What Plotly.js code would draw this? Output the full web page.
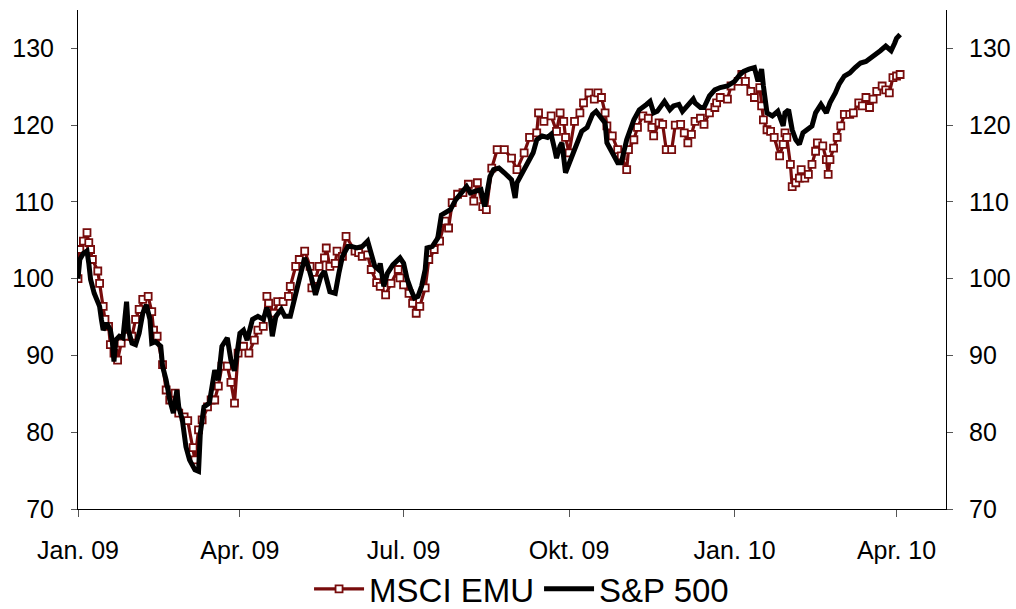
<!DOCTYPE html>
<html>
<head>
<meta charset="utf-8">
<script src="https://cdn.plot.ly/plotly-3.0.1.min.js"></script>
<style>html,body{margin:0;padding:0;background:#fff;}#chart{width:1016px;height:609px;}</style>
</head>
<body>
<div id="chart"></div>
<script>
const seriesNames = ["MSCI EMU", "S&P 500"];
const tickDates = ["2009-01-01","2009-04-01","2009-07-01","2009-10-01","2010-01-01","2010-04-01"];
const tickLabels = ["Jan. 09","Apr. 09","Jul. 09","Okt. 09","Jan. 10","Apr. 10"];
const yTicks = [70, 80, 90, 100, 110, 120, 130];

const msciDates = ["2009-01-01","2009-01-02","2009-01-04","2009-01-06","2009-01-07","2009-01-08","2009-01-09","2009-01-12","2009-01-13","2009-01-15","2009-01-16","2009-01-18","2009-01-19","2009-01-21","2009-01-23","2009-01-25","2009-01-28","2009-01-31","2009-02-02","2009-02-04","2009-02-06","2009-02-09","2009-02-11","2009-02-12","2009-02-14","2009-02-17","2009-02-19","2009-02-21","2009-02-24","2009-02-26","2009-03-01","2009-03-03","2009-03-06","2009-03-07","2009-03-09","2009-03-11","2009-03-14","2009-03-16","2009-03-18","2009-03-20","2009-03-22","2009-03-25","2009-03-27","2009-03-29","2009-03-31","2009-04-03","2009-04-06","2009-04-09","2009-04-11","2009-04-14","2009-04-16","2009-04-17","2009-04-20","2009-04-22","2009-04-25","2009-04-28","2009-04-29","2009-05-02","2009-05-04","2009-05-07","2009-05-10","2009-05-11","2009-05-13","2009-05-15","2009-05-18","2009-05-19","2009-05-21","2009-05-24","2009-05-25","2009-05-28","2009-05-30","2009-06-04","2009-06-06","2009-06-08","2009-06-11","2009-06-13","2009-06-16","2009-06-18","2009-06-21","2009-06-24","2009-06-28","2009-06-29","2009-07-01","2009-07-04","2009-07-06","2009-07-08","2009-07-10","2009-07-13","2009-07-15","2009-07-18","2009-07-21","2009-07-24","2009-07-26","2009-07-28","2009-07-31","2009-08-03","2009-08-06","2009-08-09","2009-08-11","2009-08-14","2009-08-16","2009-08-19","2009-08-22","2009-08-26","2009-08-30","2009-09-02","2009-09-06","2009-09-09","2009-09-13","2009-09-14","2009-09-17","2009-09-21","2009-09-24","2009-09-26","2009-09-28","2009-09-29","2009-10-01","2009-10-04","2009-10-07","2009-10-09","2009-10-12","2009-10-15","2009-10-17","2009-10-19","2009-10-21","2009-10-22","2009-10-25","2009-10-28","2009-10-30","2009-11-02","2009-11-03","2009-11-06","2009-11-08","2009-11-11","2009-11-14","2009-11-16","2009-11-17","2009-11-20","2009-11-22","2009-11-24","2009-11-27","2009-11-29","2009-12-02","2009-12-04","2009-12-06","2009-12-08","2009-12-10","2009-12-13","2009-12-15","2009-12-18","2009-12-21","2009-12-22","2009-12-24","2009-12-28","2009-12-30","2010-01-03","2010-01-05","2010-01-07","2010-01-10","2010-01-12","2010-01-15","2010-01-16","2010-01-17","2010-01-19","2010-01-21","2010-01-23","2010-01-26","2010-01-28","2010-01-29","2010-01-30","2010-02-01","2010-02-02","2010-02-04","2010-02-06","2010-02-07","2010-02-09","2010-02-11","2010-02-13","2010-02-15","2010-02-16","2010-02-19","2010-02-21","2010-02-22","2010-02-23","2010-02-25","2010-02-27","2010-03-01","2010-03-03","2010-03-06","2010-03-08","2010-03-11","2010-03-13","2010-03-15","2010-03-17","2010-03-19","2010-03-21","2010-03-24","2010-03-26","2010-03-28","2010-03-30","2010-04-01","2010-04-03"];
const msciValues = [100.0,103.8,104.9,106.0,104.7,103.8,102.5,101.0,99.4,96.4,94.7,93.8,91.4,90.3,89.4,91.6,92.5,92.5,94.7,96.0,97.3,97.7,95.7,93.3,92.5,88.8,85.5,84.2,85.1,82.5,82.0,81.5,78.0,76.4,80.3,81.6,83.3,84.2,84.2,86.0,88.6,88.6,86.5,83.8,90.3,91.2,90.3,92.0,93.3,93.8,97.7,96.8,95.5,97.0,97.0,97.7,99.0,101.6,102.5,103.6,101.6,98.8,99.9,101.6,102.7,104.0,101.6,102.0,103.6,102.9,105.5,103.6,103.4,102.9,103.1,101.2,99.5,99.0,97.9,99.4,101.2,100.1,99.2,98.1,96.8,95.5,96.4,98.8,102.5,103.8,104.9,107.5,106.6,109.9,111.0,111.2,112.3,110.1,112.5,109.4,109.0,114.4,116.8,116.8,115.7,114.2,116.4,118.4,119.0,121.6,120.5,121.2,119.2,121.6,120.5,118.4,116.4,120.5,121.6,122.9,124.2,123.4,124.2,123.6,121.6,119.9,118.6,116.8,116.0,114.2,116.8,118.1,119.7,121.2,120.9,119.7,118.6,120.3,120.1,116.8,116.8,120.0,120.1,119.0,117.7,118.8,120.5,120.9,120.1,121.6,122.3,122.9,123.6,123.4,125.1,125.7,126.6,125.7,124.4,123.6,124.9,122.5,120.7,119.4,119.2,118.4,116.0,117.5,119.0,118.4,114.9,112.0,112.5,113.1,114.2,113.1,113.6,114.9,116.6,117.7,117.3,115.5,113.6,115.5,117.0,118.4,119.9,121.4,121.4,121.6,122.9,122.5,123.6,122.3,123.4,124.4,125.1,124.6,124.2,126.2,126.4,126.6];

const spxDates = ["2009-01-01","2009-01-02","2009-01-04","2009-01-06","2009-01-07","2009-01-08","2009-01-10","2009-01-13","2009-01-14","2009-01-15","2009-01-17","2009-01-19","2009-01-20","2009-01-21","2009-01-22","2009-01-24","2009-01-26","2009-01-28","2009-01-29","2009-01-31","2009-02-02","2009-02-04","2009-02-06","2009-02-08","2009-02-10","2009-02-11","2009-02-13","2009-02-16","2009-02-17","2009-02-19","2009-02-21","2009-02-23","2009-02-25","2009-02-26","2009-02-28","2009-03-02","2009-03-04","2009-03-07","2009-03-09","2009-03-10","2009-03-12","2009-03-15","2009-03-18","2009-03-20","2009-03-22","2009-03-25","2009-03-27","2009-03-29","2009-04-01","2009-04-03","2009-04-05","2009-04-08","2009-04-11","2009-04-14","2009-04-16","2009-04-18","2009-04-19","2009-04-21","2009-04-24","2009-04-26","2009-04-29","2009-05-01","2009-05-04","2009-05-07","2009-05-09","2009-05-11","2009-05-13","2009-05-16","2009-05-18","2009-05-21","2009-05-24","2009-05-26","2009-05-28","2009-05-31","2009-06-02","2009-06-05","2009-06-08","2009-06-11","2009-06-13","2009-06-15","2009-06-17","2009-06-18","2009-06-20","2009-06-22","2009-06-25","2009-06-29","2009-07-01","2009-07-03","2009-07-05","2009-07-07","2009-07-09","2009-07-11","2009-07-13","2009-07-14","2009-07-17","2009-07-20","2009-07-22","2009-07-25","2009-07-27","2009-07-30","2009-08-02","2009-08-05","2009-08-07","2009-08-10","2009-08-13","2009-08-15","2009-08-18","2009-08-20","2009-08-23","2009-08-26","2009-08-30","2009-09-01","2009-09-02","2009-09-05","2009-09-08","2009-09-11","2009-09-13","2009-09-16","2009-09-19","2009-09-21","2009-09-23","2009-09-24","2009-09-26","2009-09-27","2009-09-29","2009-10-03","2009-10-06","2009-10-08","2009-10-11","2009-10-14","2009-10-16","2009-10-19","2009-10-21","2009-10-22","2009-10-25","2009-10-28","2009-10-30","2009-11-02","2009-11-06","2009-11-09","2009-11-13","2009-11-15","2009-11-17","2009-11-19","2009-11-23","2009-11-26","2009-11-28","2009-12-01","2009-12-03","2009-12-06","2009-12-09","2009-12-10","2009-12-13","2009-12-15","2009-12-18","2009-12-21","2009-12-24","2009-12-28","2010-01-01","2010-01-04","2010-01-06","2010-01-09","2010-01-12","2010-01-14","2010-01-16","2010-01-17","2010-01-19","2010-01-22","2010-01-25","2010-01-28","2010-01-29","2010-01-31","2010-02-02","2010-02-04","2010-02-06","2010-02-08","2010-02-10","2010-02-13","2010-02-15","2010-02-18","2010-02-21","2010-02-23","2010-02-26","2010-02-28","2010-03-03","2010-03-06","2010-03-09","2010-03-12","2010-03-15","2010-03-18","2010-03-20","2010-03-23","2010-03-26","2010-03-29","2010-03-31","2010-04-01","2010-04-03"];
const spxValues = [100.0,102.5,103.3,103.6,102.0,99.9,98.1,96.4,94.7,93.3,94.2,93.3,92.0,89.2,92.0,92.5,92.3,97.0,93.3,91.6,91.4,92.9,95.5,96.6,94.7,91.6,91.8,91.2,88.6,86.8,84.2,82.5,85.5,83.3,81.6,78.1,76.4,75.1,74.9,79.9,83.3,83.8,88.1,86.8,91.2,92.3,89.4,88.0,92.9,93.3,92.0,94.7,95.1,94.7,96.2,94.7,92.5,95.1,96.0,95.1,95.1,97.3,99.9,102.7,101.6,99.9,97.9,100.3,101.0,98.3,98.1,100.7,102.9,104.2,104.2,104.0,104.2,104.9,103.4,101.6,101.2,102.0,99.0,100.7,101.8,102.7,102.0,99.9,98.6,97.5,97.7,99.0,101.2,104.0,104.2,105.3,108.3,108.8,109.0,110.3,111.2,112.0,111.2,111.4,111.6,109.4,113.3,114.2,114.4,113.8,112.9,110.5,112.5,113.8,115.1,116.4,118.1,118.6,118.4,118.8,116.8,115.7,117.3,117.7,113.8,116.4,118.1,119.2,119.7,121.4,121.8,120.9,120.3,117.7,116.4,115.1,115.1,118.1,120.7,122.0,122.7,123.1,121.6,121.8,123.1,122.0,122.5,122.7,121.8,122.7,123.4,122.9,122.3,122.3,123.8,124.6,124.9,125.1,125.7,126.6,127.0,127.3,127.5,125.7,127.3,125.1,121.6,121.2,121.8,119.9,121.6,122.0,119.4,118.1,117.5,119.0,119.4,119.9,121.6,122.7,121.6,122.9,124.2,125.3,126.4,126.8,127.5,128.1,128.3,128.8,129.0,129.7,130.3,129.7,130.7,131.3,131.8];

const FONT = "'Liberation Sans', Arial, sans-serif";

const traces = [
  {
    x: msciDates, y: msciValues, name: seriesNames[0], type: "scatter", mode: "lines+markers",
    line: {color: "#780c0c", width: 3.2},
    marker: {symbol: "square", size: 7, color: "#ffffff", line: {color: "#780c0c", width: 1.8}},
    xaxis: "x", yaxis: "y"
  },
  {
    x: spxDates, y: spxValues, name: seriesNames[1], type: "scatter", mode: "lines",
    line: {color: "#000000", width: 5},
    xaxis: "x", yaxis: "y2"
  }
];

const yCommon = {
  range: [70, 135], tickvals: yTicks, ticks: "outside", ticklen: 6, tickcolor: "#555",
  showline: true, linecolor: "#000", linewidth: 1, showgrid: false, zeroline: false,
  tickfont: {family: FONT, size: 25, color: "#000"}, fixedrange: true
};

const layout = {
  width: 1016, height: 609,
  margin: {l: 78, r: 70, t: 10, b: 100, pad: 0, autoexpand: false},
  paper_bgcolor: "#ffffff", plot_bgcolor: "#ffffff",
  font: {family: FONT, color: "#000"},
  showlegend: true,
  xaxis: {
    type: "date", range: ["2009-01-01", "2010-04-28 12:00"],
    tickvals: tickDates, ticktext: tickLabels, ticks: "outside", ticklen: 7, tickcolor: "#555",
    showline: true, linecolor: "#000", linewidth: 1, showgrid: false, zeroline: false,
    tickfont: {family: FONT, size: 25, color: "#000"}, ticklabelstandoff: 12
  },
  yaxis: Object.assign({}, yCommon, {side: "left", ticklabelstandoff: 12}),
  yaxis2: Object.assign({}, yCommon, {side: "right", overlaying: "y", ticklabelstandoff: 11}),
  legend: {
    orientation: "h", x: 0.511, xanchor: "center", y: -0.16, yanchor: "middle",
    font: {family: FONT, size: 33, color: "#000"}, itemwidth: 50, bgcolor: "rgba(0,0,0,0)",
    tracegroupgap: 0
  }
};

Plotly.newPlot("chart", traces, layout, {staticPlot: true, displayModeBar: false});
</script>
</body>
</html>
